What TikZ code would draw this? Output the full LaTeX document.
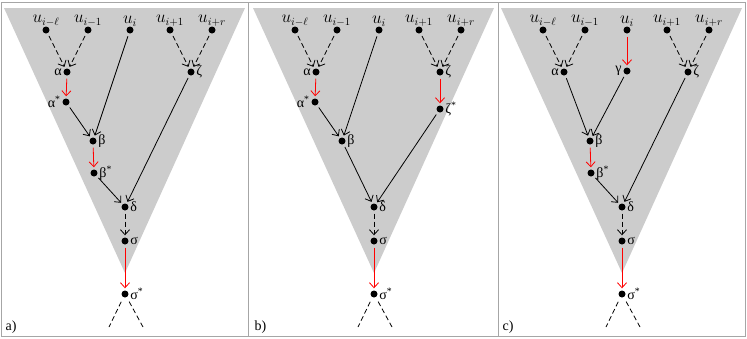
\documentclass[tikz,border=0pt]{standalone}
\usepackage{fontspec}
\setmainfont{Liberation Serif}
\usetikzlibrary{arrows.meta}

\tikzset{
  dot/.style={circle, fill=black, inner sep=0pt, minimum size=7pt},
  lbl/.style={font=\fontsize{14}{16}\selectfont, inner sep=1.5pt},
  ulbl/.style={font=\fontsize{16}{18}\selectfont, inner sep=0pt},
  edge/.style={-{Straight Barb[length=5pt,width=9pt]}, shorten <=3pt, shorten >=2pt, line width=0.8pt},
  dedge/.style={edge, dash pattern=on 5pt off 3pt},
  redge/.style={edge, red},
  tail/.style={dash pattern=on 5pt off 3pt, line width=0.8pt, shorten <=5pt},
}

\begin{document}
\begin{tikzpicture}[x=1pt, y=-1pt]
\useasboundingbox (0,0) rectangle (747,338);
% panel frames
\draw[black!35, line width=1pt] (1,2) rectangle (745,336);
\draw[black!35, line width=1pt] (248,2) -- (248,336) (498,2) -- (498,336);

% parts shared by all three panels
\foreach \p/\sx in {a/125, b/374, c/622}{
  \begin{scope}[xshift=\sx pt]
    \fill[black!20] (-121,8) -- (120,8) -- (0,273) -- cycle;
    \node[dot, label={[ulbl]above:$u_{i-\ell}$}] (\p-uL) at (-79,30) {};
    \node[dot, label={[ulbl]above:$u_{i-1}$}] (\p-uM) at (-37,30) {};
    \node[dot, label={[ulbl]above:$u_{i}$}] (\p-ui) at (5,30) {};
    \node[dot, label={[ulbl]above:$u_{i+1}$}] (\p-uP) at (45,30) {};
    \node[dot, label={[ulbl]above:$u_{i+r}$}] (\p-uR) at (87,30) {};
    \node[dot, label={[lbl]left:α}] (\p-al) at (-58,72) {};
    \node[dot, label={[lbl]right:ζ}] (\p-ze) at (66,72) {};
    \node[dot, label={[lbl]right:β}] (\p-be) at (-32,141) {};
    \node[dot, label={[lbl]right:δ}] (\p-de) at (0,207) {};
    \node[dot, label={[lbl]right:σ}] (\p-si) at (0,241) {};
    \node[dot, label={[lbl]right:σ\textsuperscript{*}}] (\p-ss) at (0,294) {};
    \coordinate (\p-tl) at (-16,327);
    \coordinate (\p-tr) at (18,327);
    \node[lbl, anchor=west] (\p-lab) at (-121,327) {\p)};

    \draw[dedge] (\p-uL) -- (\p-al);
    \draw[dedge] (\p-uM) -- (\p-al);
    \draw[dedge] (\p-uP) -- (\p-ze);
    \draw[dedge] (\p-uR) -- (\p-ze);
    \draw[dedge] (\p-de) -- (\p-si);
    \draw[redge] (\p-si) -- (\p-ss);
    \draw[tail] (\p-ss) -- (\p-tl);
    \draw[tail] (\p-ss) -- (\p-tr);
  \end{scope}
}

% a)
\begin{scope}[xshift=125pt]
  \node[dot, label={[lbl]left:α\textsuperscript{*}}] (a-as) at (-59,102) {};
  \node[dot, label={[lbl]right:β\textsuperscript{*}}] (a-bs) at (-31,173) {};
  \draw[redge] (a-al) -- (a-as);
  \draw[edge] (a-as) -- (a-be);
  \draw[edge] (a-ui) -- (a-be);
  \draw[redge] (a-be) -- (a-bs);
  \draw[edge] (a-bs) -- (a-de);
  \draw[edge] (a-ze) -- (a-de);
\end{scope}

% b)
\begin{scope}[xshift=374pt]
  \node[dot, label={[lbl]left:α\textsuperscript{*}}] (b-as) at (-59,102) {};
  \node[dot, label={[lbl]right:ζ\textsuperscript{*}}] (b-zs) at (66,109) {};
  \draw[redge] (b-al) -- (b-as);
  \draw[edge] (b-as) -- (b-be);
  \draw[edge] (b-ui) -- (b-be);
  \draw[redge] (b-ze) -- (b-zs);
  \draw[edge] (b-zs) -- (b-de);
  \draw[edge] (b-be) -- (b-de);
\end{scope}

% c)
\begin{scope}[xshift=622pt]
  \node[dot, label={[lbl]left:γ}] (c-ga) at (5,71) {};
  \node[dot, label={[lbl]right:β\textsuperscript{*}}] (c-bs) at (-31,173) {};
  \draw[redge] (c-ui) -- (c-ga);
  \draw[edge] (c-al) -- (c-be);
  \draw[edge] (c-ga) -- (c-be);
  \draw[redge] (c-be) -- (c-bs);
  \draw[edge] (c-bs) -- (c-de);
  \draw[edge] (c-ze) -- (c-de);
\end{scope}
\end{tikzpicture}
\end{document}
